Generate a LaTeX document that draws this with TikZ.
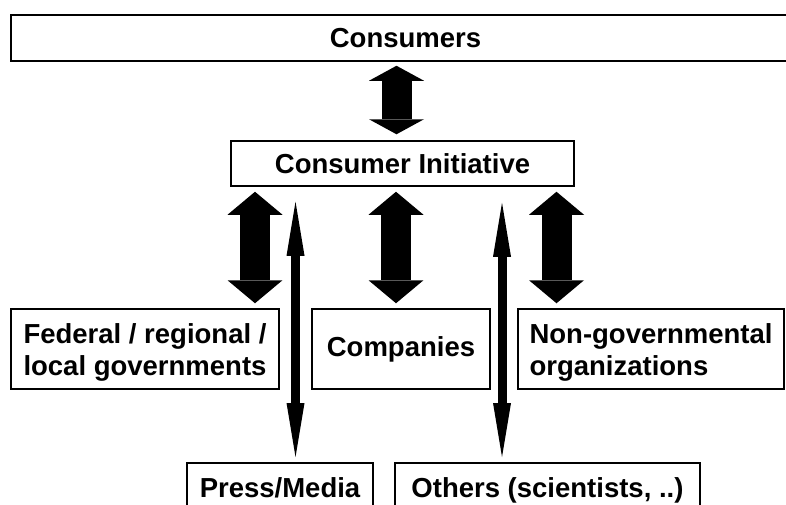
\documentclass[tikz,border=0pt]{standalone}
\usepackage{fontspec}
\setmainfont{Liberation Sans}
\usetikzlibrary{arrows.meta}
\begin{document}
\begin{tikzpicture}[x=1pt,y=-1pt,
  box/.style={draw, line width=1.5pt, rectangle, inner sep=0pt,
    font=\fontsize{27.5}{32}\selectfont\bfseries},
  twoline/.style={align=left, text height=58pt, text depth=6pt},
  fat/.style={line width=30pt, {Triangle[width=55pt,length=#1,line width=0pt]}-{Triangle[width=55pt,length=#1,line width=0pt]}},
  thin/.style={line width=9pt, {Triangle[width=18pt,length=54pt,line width=0pt]}-{Triangle[width=18pt,length=54pt,line width=0pt]}}]
\useasboundingbox (0,0) rectangle (786,504);
\fill[white] (0,0) rectangle (786,504);
\clip (0,0) rectangle (786,504);

\node[box, minimum width=789pt, minimum height=46pt] (cons) at (405.5,38) {Consumers};
\node[box, minimum width=343pt, minimum height=45pt] (ci) at (402.5,163.5) {Consumer Initiative};
\node[box, twoline, minimum width=268pt, minimum height=80pt] (fed) at (145,349) {Federal / regional /\\local governments};
\node[box, minimum width=178pt, minimum height=80pt] (comp) at (401,349) {Companies};
\node[box, twoline, minimum width=266pt, minimum height=80pt] (ngo) at (651,349) {Non-governmental\\organizations};
\node[box, anchor=north, minimum width=186pt, text height=20pt, text depth=6pt, inner ysep=15pt] (press) at (280,462) {Press/Media};
\node[box, anchor=north, minimum width=305pt, text height=20pt, text depth=6pt, inner ysep=15pt] (oth) at (547.5,462) {Others (scientists, ..)};

\coordinate (xtop) at (396.5,0);
\coordinate (xfed) at (255,0);
\coordinate (xcomp) at (396,0);
\coordinate (xngo) at (556.5,0);
\coordinate (xpress) at (295.5,0);
\coordinate (xoth) at (502,0);

\draw[fat=15pt, shorten <=4pt, shorten >=6pt] (cons.south -| xtop) -- (ci.north -| xtop);
\draw[fat=23pt, shorten <=5pt, shorten >=5pt] (ci.south -| xfed) -- (fed.north -| xfed);
\draw[fat=23pt, shorten <=5pt, shorten >=5pt] (ci.south -| xcomp) -- (comp.north -| xcomp);
\draw[fat=23pt, shorten <=5pt, shorten >=5pt] (ci.south -| xngo) -- (ngo.north -| xngo);
\draw[thin, shorten <=15pt, shorten >=5pt] (ci.south -| xpress) -- (press.north -| xpress);
\draw[thin, shorten <=16pt, shorten >=5pt] (ci.south -| xoth) -- (oth.north -| xoth);
\end{tikzpicture}
\end{document}
